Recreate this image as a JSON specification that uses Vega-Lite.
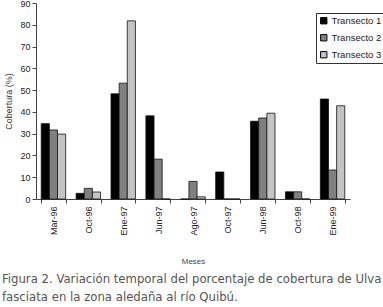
{
  "$schema": "https://vega.github.io/schema/vega-lite/v6.json",
  "autosize": {"type": "none"},
  "width": 314,
  "height": 196,
  "padding": {"left": 36, "top": 3, "right": 33, "bottom": 108},
  "background": "white",
  "config": {
    "view": {"stroke": null},
    "font": "Liberation Sans"
  },
  "title": {
    "text": ["Figura 2. Variación temporal del porcentaje de cobertura de Ulva", "fasciata en la zona aledaña al río Quibú."],
    "orient": "bottom",
    "anchor": "start",
    "frame": "group",
    "dx": -34,
    "offset": 8,
    "font": "DejaVu Sans Condensed",
    "fontSize": 13,
    "fontWeight": "normal",
    "color": "#555555",
    "lineHeight": 18
  },
  "data": {
    "values": [
      {"mes": "Mar-96", "t": "Transecto 1", "v": 34.6},
      {"mes": "Mar-96", "t": "Transecto 2", "v": 31.7},
      {"mes": "Mar-96", "t": "Transecto 3", "v": 29.8},
      {"mes": "Oct-96", "t": "Transecto 1", "v": 2.6},
      {"mes": "Oct-96", "t": "Transecto 2", "v": 4.9},
      {"mes": "Oct-96", "t": "Transecto 3", "v": 3.2},
      {"mes": "Ene-97", "t": "Transecto 1", "v": 48.3},
      {"mes": "Ene-97", "t": "Transecto 2", "v": 53.2},
      {"mes": "Ene-97", "t": "Transecto 3", "v": 81.8},
      {"mes": "Jun-97", "t": "Transecto 1", "v": 38.2},
      {"mes": "Jun-97", "t": "Transecto 2", "v": 18.3},
      {"mes": "Jun-97", "t": "Transecto 3", "v": 0},
      {"mes": "Ago-97", "t": "Transecto 1", "v": 0},
      {"mes": "Ago-97", "t": "Transecto 2", "v": 8.1},
      {"mes": "Ago-97", "t": "Transecto 3", "v": 1},
      {"mes": "Oct-97", "t": "Transecto 1", "v": 12.4},
      {"mes": "Oct-97", "t": "Transecto 2", "v": 0},
      {"mes": "Oct-97", "t": "Transecto 3", "v": 0},
      {"mes": "Jun-98", "t": "Transecto 1", "v": 35.7},
      {"mes": "Jun-98", "t": "Transecto 2", "v": 37.2},
      {"mes": "Jun-98", "t": "Transecto 3", "v": 39.4},
      {"mes": "Oct-98", "t": "Transecto 1", "v": 3.3},
      {"mes": "Oct-98", "t": "Transecto 2", "v": 3.3},
      {"mes": "Oct-98", "t": "Transecto 3", "v": 0},
      {"mes": "Ene-99", "t": "Transecto 1", "v": 45.9},
      {"mes": "Ene-99", "t": "Transecto 2", "v": 13.3},
      {"mes": "Ene-99", "t": "Transecto 3", "v": 42.8}
    ]
  },
  "mark": {"type": "bar", "stroke": "#111111", "strokeWidth": 0.8},
  "encoding": {
    "x": {
      "field": "mes",
      "type": "nominal",
      "sort": null,
      "scale": {"paddingInner": 0.3, "paddingOuter": 0.15},
      "axis": {
        "title": "Meses",
        "titleFontSize": 8,
        "titleFontWeight": "normal",
        "titleColor": "#444444",
        "titlePadding": 22,
        "labelAngle": -90,
        "labelFontSize": 9,
        "labelColor": "#222222",
        "labelPadding": 3,
        "tickBand": "extent",
        "tickSize": 4,
        "domainColor": "#444444",
        "tickColor": "#444444"
      }
    },
    "xOffset": {"field": "t", "type": "nominal"},
    "y": {
      "field": "v",
      "type": "quantitative",
      "scale": {"domain": [0, 90], "nice": false},
      "axis": {
        "title": "Cobertura (%)",
        "titleFontSize": 9,
        "titleFontWeight": "normal",
        "titleColor": "#333333",
        "titlePadding": 6,
        "values": [0, 10, 20, 30, 40, 50, 60, 70, 80, 90],
        "grid": false,
        "labelFontSize": 9,
        "labelColor": "#222222",
        "tickSize": 4,
        "domainColor": "#444444",
        "tickColor": "#444444"
      }
    },
    "fill": {
      "field": "t",
      "type": "nominal",
      "scale": {"range": ["#000000", "#808080", "#c4c4c4"]},
      "legend": {
        "title": null,
        "orient": "none",
        "legendX": 280,
        "legendY": 10,
        "symbolType": "square",
        "symbolSize": 40,
        "symbolStrokeColor": "#000000",
        "symbolStrokeWidth": 1,
        "labelFontSize": 9.5,
        "labelOffset": 3,
        "labelColor": "#222222",
        "rowPadding": 6,
        "padding": 3,
        "strokeColor": "#333333",
        "fillColor": "white"
      }
    }
  }
}
